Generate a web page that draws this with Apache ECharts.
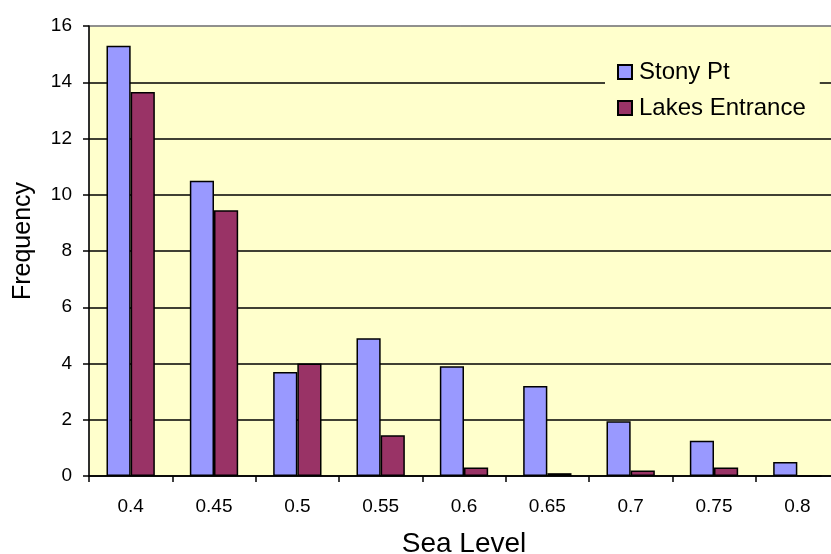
<!DOCTYPE html>
<html>
<head>
<meta charset="utf-8">
<script src="https://cdn.jsdelivr.net/npm/echarts@6/dist/echarts.min.js"></script>
<style>
  html, body { margin: 0; padding: 0; background: #ffffff; }
  #chart { width: 831px; height: 554px; }
</style>
</head>
<body>
<div id="chart"></div>
<script>
var categories = ['0.4', '0.45', '0.5', '0.55', '0.6', '0.65', '0.7', '0.75', '0.8'];
var stonyPt = [15.3, 10.5, 3.7, 4.9, 3.9, 3.2, 1.95, 1.25, 0.5];
var lakesEntrance = [13.65, 9.45, 4.0, 1.45, 0.3, 0.1, 0.2, 0.3, 0];
var yTicks = [0, 2, 4, 6, 8, 10, 12, 14, 16];

var FONT = '"Liberation Sans", Arial, sans-serif';
var chart = echarts.init(document.getElementById('chart'), null, { renderer: 'canvas' });

chart.setOption({
  backgroundColor: '#ffffff',
  animation: false,
  grid: {
    left: 89, top: 26, right: -8, bottom: 78,
    containLabel: false,
    outerBoundsMode: 'none',
    show: true,
    backgroundColor: '#FFFFCC',
    borderColor: '#808080',
    borderWidth: 1
  },
  legend: {
    orient: 'vertical',
    left: 605,
    top: 52,
    padding: [8, 14, 8, 12],
    backgroundColor: '#FFFFCC',
    itemWidth: 14,
    itemHeight: 14,
    itemGap: 12,
    icon: 'rect',
    textStyle: { fontFamily: FONT, fontSize: 24, color: '#000', padding: [0, 0, 0, 2] },
    data: ['Stony Pt', 'Lakes Entrance']
  },
  xAxis: {
    type: 'category',
    data: categories,
    name: 'Sea Level',
    nameLocation: 'middle',
    nameGap: 54,
    nameTextStyle: { fontFamily: FONT, fontSize: 28, color: '#000' },
    axisLine: { lineStyle: { color: '#000', width: 1.5 } },
    axisTick: { show: true, length: 6, lineStyle: { color: '#000', width: 1.5 } },
    axisLabel: { fontFamily: FONT, fontSize: 19, color: '#000', margin: 21 },
    splitLine: { show: false }
  },
  yAxis: {
    type: 'value',
    min: yTicks[0],
    max: yTicks[yTicks.length - 1],
    interval: 2,
    name: 'Frequency',
    nameLocation: 'middle',
    nameGap: 53,
    nameTextStyle: { fontFamily: FONT, fontSize: 25, color: '#000', padding: [0, 0, 0, 20] },
    axisLine: { show: true, lineStyle: { color: '#000', width: 1.5 } },
    axisTick: { show: true, length: 6, lineStyle: { color: '#000', width: 1.5 } },
    axisLabel: { fontFamily: FONT, fontSize: 19, color: '#000', margin: 17 },
    splitLine: {
      show: true,
      lineStyle: {
        color: ['#000', '#000', '#000', '#000', '#000', '#000', '#000', '#000', '#808080'],
        width: 1.5
      }
    }
  },
  series: [
    {
      name: 'Stony Pt',
      type: 'bar',
      data: stonyPt,
      barWidth: '29%',
      barGap: '0%',
      itemStyle: { color: '#9999FF', borderColor: '#000', borderWidth: 1.5 }
    },
    {
      name: 'Lakes Entrance',
      type: 'bar',
      data: lakesEntrance,
      barWidth: '29%',
      barGap: '0%',
      itemStyle: { color: '#993366', borderColor: '#000', borderWidth: 1.5 }
    }
  ]
});
</script>
</body>
</html>
